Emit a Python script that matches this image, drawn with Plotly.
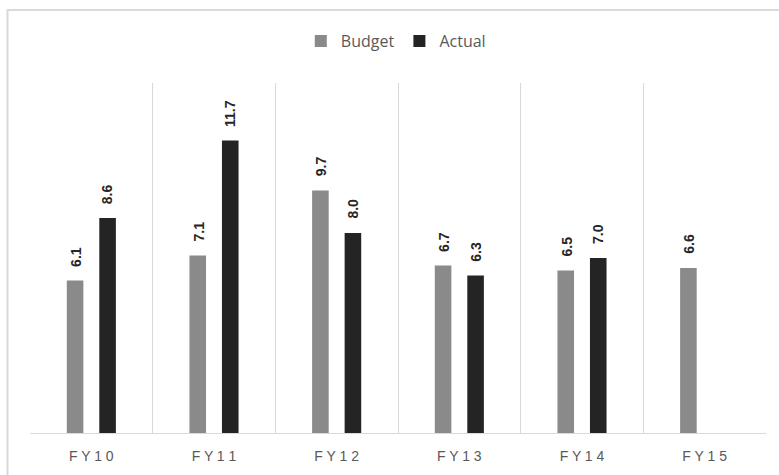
import plotly.graph_objects as go

# Fiscal years and the two series (FY15 has no actual yet)
categories = ["FY10", "FY11", "FY12", "FY13", "FY14", "FY15"]
budget = [6.1, 7.1, 9.7, 6.7, 6.5, 6.6]
actual = [8.6, 11.7, 8.0, 6.3, 7.0, None]

budget_color = "#8a8a8a"
actual_color = "#242424"
text_gray = "#595959"
grid_gray = "#d9d9d9"

# Letter-spaced tick labels
tick_text = [" ".join(c) for c in categories]

fig = go.Figure()
fig.add_trace(go.Bar(name="Budget", x=categories, y=budget,
                     marker=dict(color=budget_color, line=dict(width=0))))
fig.add_trace(go.Bar(name="Actual", x=categories, y=actual,
                     marker=dict(color=actual_color, line=dict(width=0))))

# Rotated value labels above each bar
annotations = []
for series, offset in ((budget, -0.13), (actual, 0.13)):
    for i, v in enumerate(series):
        if v is None:
            continue
        annotations.append(dict(
            x=i + offset, y=v, xref="x", yref="y",
            text=f"<b>{v:.1f}</b>", showarrow=False, textangle=-90,
            yanchor="bottom", xanchor="center", yshift=12,
            font=dict(family="Liberation Sans", size=14, color="#262626"),
        ))

fig.update_layout(
    width=779, height=475,
    margin=dict(l=30, r=13, t=83, b=42, autoexpand=False),
    paper_bgcolor="white", plot_bgcolor="white",
    barmode="group", bargap=0.47, bargroupgap=0.49,
    showlegend=True,
    legend=dict(orientation="h", x=0.497, y=1.12, xanchor="center", yanchor="middle",
                font=dict(family="Open Sans", size=16, color=text_gray),
                itemwidth=30, traceorder="normal"),
    annotations=annotations,
    shapes=[dict(type="rect", xref="paper", yref="paper",
                 x0=-0.0306, x1=1.03, y0=-0.14, y1=1.2086,
                 line=dict(color=grid_gray, width=2), layer="below")],
    xaxis=dict(
        tickmode="array", tickvals=categories, ticktext=tick_text,
        tickson="boundaries", ticks="", showgrid=True, gridcolor=grid_gray, gridwidth=1,
        showline=True, linecolor=grid_gray, linewidth=1,
        tickfont=dict(family="Liberation Sans", size=14, color=text_gray),
        ticklabelstandoff=10, automargin=False,
        fixedrange=True,
    ),
    yaxis=dict(range=[0, 14], visible=False, showgrid=False, zeroline=False,
               automargin=False, fixedrange=True),
)

fig.write_html("out.html")
